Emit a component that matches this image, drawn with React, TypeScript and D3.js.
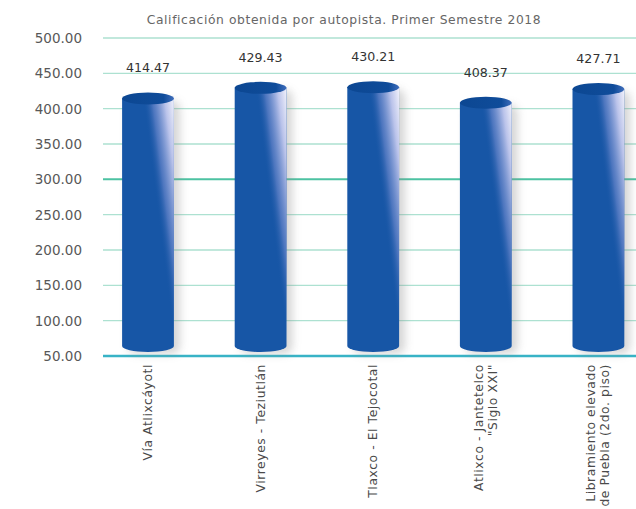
import * as d3 from "d3";
import { useEffect, useRef } from "react";

const title = "Calificación obtenida por autopista. Primer Semestre 2018";
const categories = [
  ["Vía Atlixcáyotl"],
  ["Virreyes - Teziutlán"],
  ["Tlaxco - El Tejocotal"],
  ["Atlixco - Jantetelco", "\"Siglo XXI\""],
  ["Libramiento elevado", "de Puebla (2do. piso)"],
];
const values = [414.47, 429.43, 430.21, 408.37, 427.71];
const yTicks = [50, 100, 150, 200, 250, 300, 350, 400, 450, 500];

export default function App() {
  const svgRef = useRef<SVGSVGElement>(null);
  const width = 636;
  const height = 509;

  useEffect(() => {
    const svg = d3.select(svgRef.current);
    svg.selectAll("*").remove();

    const x = d3.scaleBand<number>()
      .domain(values.map((_, i) => i))
      .range([91.7, 654.7])
      .paddingInner(0.54)
      .paddingOuter(0.27);
    const y = d3.scaleLinear([50, 500], [356, 38]);
    const bw = x.bandwidth();
    const ry = 6;

    const defs = svg.append("defs");
    const shade = defs.append("linearGradient")
      .attr("id", "shade")
      .attr("x1", 0.5).attr("y1", 0.5).attr("x2", 1).attr("y2", 0);
    shade.append("stop").attr("offset", 0).attr("stop-color", "#1655a5").attr("stop-opacity", 0);
    shade.append("stop").attr("offset", 0.3).attr("stop-color", "#6a87cc").attr("stop-opacity", 0.65);
    shade.append("stop").attr("offset", 0.7).attr("stop-color", "#c3c9ee").attr("stop-opacity", 0.95);
    shade.append("stop").attr("offset", 1).attr("stop-color", "#f2f2fb").attr("stop-opacity", 1);

    const cap = defs.append("linearGradient").attr("id", "cap");
    cap.append("stop").attr("offset", 0).attr("stop-color", "#0c4792");
    cap.append("stop").attr("offset", 0.8).attr("stop-color", "#0f4c9a");
    cap.append("stop").attr("offset", 1).attr("stop-color", "#3f6dbb");

    const blur = defs.append("filter").attr("id", "blur")
      .attr("x", "-50%").attr("y", "-10%").attr("width", "200%").attr("height", "120%");
    blur.append("feGaussianBlur").attr("stdDeviation", 4);

    // title
    svg.append("text")
      .attr("x", 344).attr("y", 24)
      .attr("text-anchor", "middle")
      .attr("font-family", "DejaVu Sans")
      .attr("font-size", 12.3)
      .attr("letter-spacing", 0.6)
      .attr("fill", "#666")
      .text(title);

    // grid
    svg.append("g").selectAll("line")
      .data(yTicks)
      .join("line")
      .attr("x1", 103).attr("x2", width)
      .attr("y1", d => y(d)).attr("y2", d => y(d))
      .attr("stroke", d => d === 50 ? "#38b3c6" : d === 300 ? "#4cc2a2" : "#ade1d1")
      .attr("stroke-width", d => d === 50 ? 2.5 : d === 300 ? 2 : 1.3);

    svg.append("g").selectAll("text")
      .data(yTicks)
      .join("text")
      .attr("x", 82).attr("y", d => y(d) + 5)
      .attr("text-anchor", "end")
      .attr("font-family", "DejaVu Sans")
      .attr("font-size", 13.5)
      .attr("fill", "#585858")
      .text(d => d.toFixed(2));

    const base = y(50) - 4;
    const bars = svg.append("g").selectAll("g")
      .data(values)
      .join("g");

    // soft shadow
    bars.append("rect")
      .attr("x", (_, i) => x(i)! + 6)
      .attr("y", d => y(d) + 2)
      .attr("width", bw)
      .attr("height", d => base - y(d))
      .attr("rx", 8)
      .attr("fill", "#8a8a8a")
      .attr("opacity", 0.35)
      .attr("filter", "url(#blur)");

    // body
    bars.append("path")
      .attr("fill", "#1756a6")
      .attr("d", (d, i) => {
        const l = x(i)!, r = l + bw, t = y(d);
        return `M${l},${t} L${r},${t} L${r},${base - ry} A${bw / 2},${ry} 0 0 1 ${l},${base - ry} Z`;
      });

    // highlight on the right
    bars.append("path")
      .attr("fill", "url(#shade)")
      .attr("d", (d, i) => {
        const l = x(i)!, r = l + bw, t = y(d);
        return `M${l + bw * 0.4},${t} L${r},${t} L${r},${base - 12} Z`;
      });

    // top cap
    bars.append("ellipse")
      .attr("cx", (_, i) => x(i)! + bw / 2)
      .attr("cy", d => y(d))
      .attr("rx", bw / 2)
      .attr("ry", ry)
      .attr("fill", "url(#cap)");

    // value labels
    bars.append("text")
      .attr("x", (_, i) => x(i)! + bw / 2)
      .attr("y", d => y(d) - 26)
      .attr("text-anchor", "middle")
      .attr("font-family", "DejaVu Sans")
      .attr("font-size", 12.6)
      .attr("fill", "#333")
      .text(d => d.toFixed(2));

    // category labels
    const lab = svg.append("g").selectAll("text")
      .data(categories)
      .join("text")
      .attr("transform", (_, i) => `translate(${x(i)! + bw / 2},364) rotate(-90)`)
      .attr("text-anchor", "end")
      .attr("font-family", "DejaVu Sans")
      .attr("font-size", 12.3)
      .attr("letter-spacing", 0.6)
      .attr("fill", "#4a4a4a");
    lab.selectAll("tspan")
      .data(d => d.map((s, j) => ({ s, j, n: d.length })))
      .join("tspan")
      .attr("x", 0)
      .attr("y", t => 4 + (t.j - (t.n - 1) / 2) * 14)
      .text(t => t.s);
  }, []);

  return (
    <svg ref={svgRef} width={width} height={height}
      style={{ position: "absolute", left: 0, top: 0, background: "#fff" }}
      xmlns="http://www.w3.org/2000/svg" />
  );
}
